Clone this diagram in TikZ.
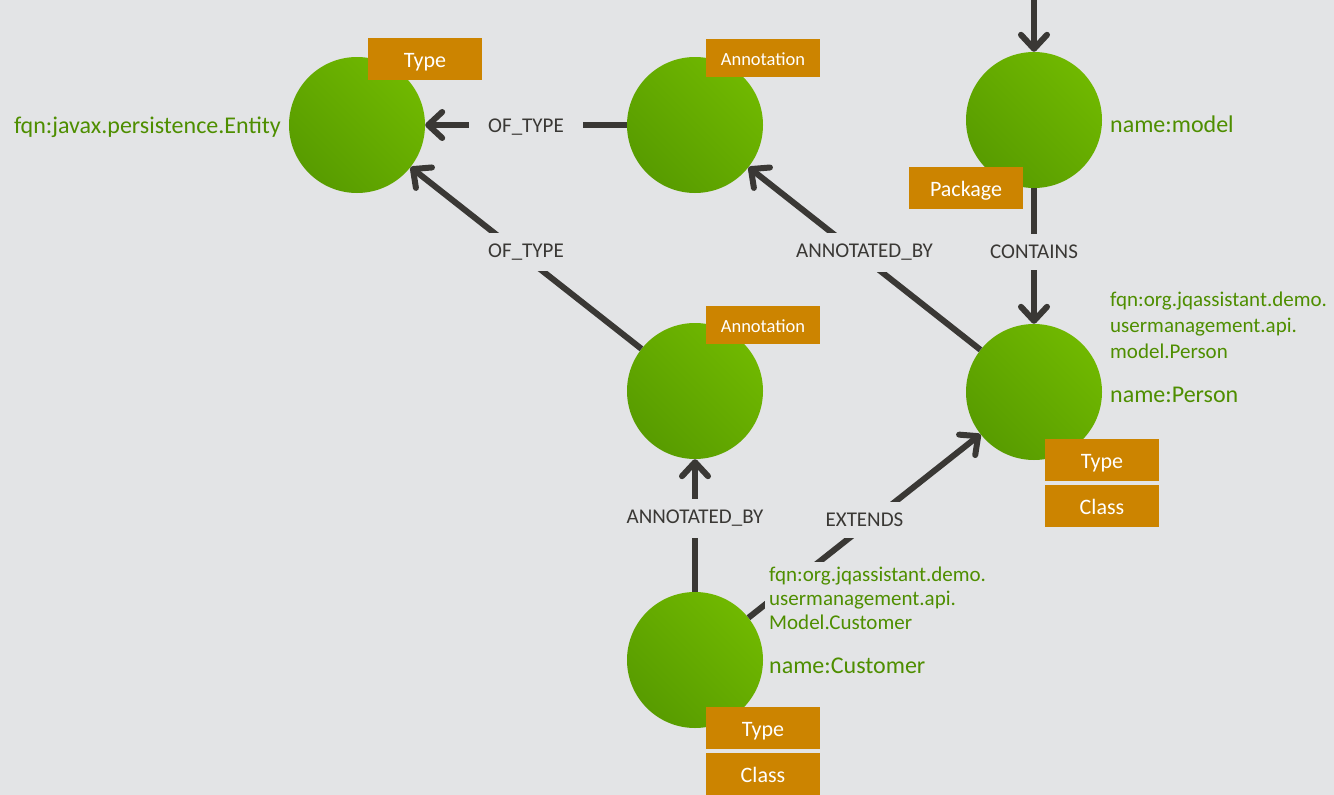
\documentclass[tikz,border=0pt]{standalone}
\usepackage{fontspec}
\setmainfont{Carlito}
\usetikzlibrary{arrows.meta}
\definecolor{bg}{RGB}{227,228,230}
\definecolor{nodelight}{RGB}{112,184,0}
\definecolor{nodedark}{RGB}{88,156,0}
\definecolor{tagorange}{RGB}{204,132,0}
\definecolor{proptext}{RGB}{78,142,0}
\definecolor{edgegray}{RGB}{58,56,53}
\begin{document}
\begin{tikzpicture}[x=1pt,y=-1pt,
  graphnode/.style={circle, minimum size=136pt, inner sep=0pt, draw=none,
    top color=nodelight, bottom color=nodedark, shading angle=-45},
  tag/.style={fill=tagorange, text=white, minimum width=114pt, minimum height=42pt,
    inner sep=0pt, text height=16pt, text depth=0pt, font=\fontsize{22}{24}\selectfont},
  smalltag/.style={tag, minimum height=38pt, text height=14pt, font=\fontsize{18.5}{20}\selectfont},
  rel/.style={draw=edgegray, line width=6pt},
  relarrow/.style={rel, -{Straight Barb[length=14pt,width=26pt,round]}},
  elabel/.style={fill=bg, text=edgegray, inner xsep=10pt, inner ysep=11pt,
    font=\fontsize{21}{23}\selectfont},
  prop/.style={text=proptext, inner sep=0pt, font=\fontsize{21}{23}\selectfont},
  propbox/.style={prop, fill=bg, inner sep=4pt},
  bigprop/.style={prop, font=\fontsize{24}{26}\selectfont}
]
% canvas
\fill[bg] (0,0) rectangle (1334,795);
\useasboundingbox (0,0) rectangle (1334,795);

% graph nodes
\node[graphnode] (entity) at (357,125) {};
\node[graphnode] (annotop) at (695,125) {};
\node[graphnode] (model) at (1034,120) {};
\node[graphnode] (person) at (1034,392) {};
\node[graphnode] (annomid) at (695,391) {};
\node[graphnode] (customer) at (695,660) {};
\coordinate (above) at (1034,-10);

% relationships
\draw[relarrow] (above) -- (model);
\draw[relarrow] (annotop) -- node[elabel, inner xsep=19pt, yshift=-2pt] (l1) {OF\_TYPE} (entity);
\draw[relarrow] (annomid) -- node[elabel, yshift=6pt] (l2) {OF\_TYPE} (entity);
\draw[relarrow] (person) -- node[elabel, yshift=6pt] (l3) {ANNOTATED\_BY} (annotop);
\draw[relarrow] (model) -- node[elabel, yshift=4pt] (l4) {CONTAINS} (person);
\draw[relarrow] (customer) -- node[elabel, yshift=7pt] (l5) {ANNOTATED\_BY} (annomid);
\draw[relarrow] (customer) -- node[elabel, yshift=6pt] (l6) {EXTENDS} (person);

% node labels
\node[tag] (tEntity) at (425,59) {Type};
\node[smalltag] (tAnnoTop) at (763,58) {Annotation};
\node[tag] (tPackage) at (966,188) {Package};
\node[tag] (tPersonType) at (1102,460) {Type};
\node[tag] (tPersonClass) at (1102,506) {Class};
\node[smalltag] (tAnnoMid) at (763,325) {Annotation};
\node[tag] (tCustType) at (763,728) {Type};
\node[tag] (tCustClass) at (763,774) {Class};

% properties
\node[bigprop, anchor=base east] (pEntity) at (281,133) {fqn:javax.persistence.Entity};
\node[bigprop, anchor=base west] (pModel) at (1110,132) {name:model};
\node[prop, anchor=base west] (pPerson1) at (1110,306) {fqn:org.jqassistant.demo.};
\node[prop, anchor=base west] (pPerson2) at (1110,332) {usermanagement.api.};
\node[prop, anchor=base west] (pPerson3) at (1110,358) {model.Person};
\node[bigprop, anchor=base west] (pPerson4) at (1110,402) {name:Person};
\node[propbox, anchor=base west] (pCust1) at (765,581) {fqn:org.jqassistant.demo.};
\node[propbox, anchor=base west] (pCust2) at (765,605) {usermanagement.api.};
\node[propbox, anchor=base west] (pCust3) at (765,629) {Model.Customer};
\node[bigprop, anchor=base west] (pCust4) at (769,673) {name:Customer};
\end{tikzpicture}
\end{document}
